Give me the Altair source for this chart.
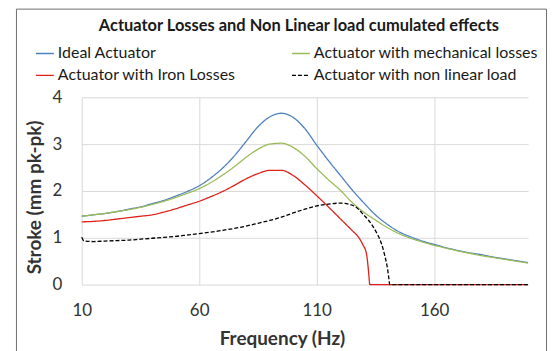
import altair as alt
import pandas as pd

# ---------------- data ----------------
series_names = [
    "Ideal Actuator",
    "Actuator with Iron Losses",
    "Actuator with mechanical losses",
    "Actuator with non linear load",
]
series_colors = ["#4F81BD", "#E0201B", "#9BBB59", "#000000"]
series_dash = [[1, 0], [1, 0], [1, 0], [4, 2]]

freq = [10, 15, 20, 25, 30, 35, 40, 45, 50, 55, 60, 65, 70, 75, 80, 85, 90, 95,
        100, 105, 110, 115, 120, 125, 130, 135, 140, 145, 150, 155, 160, 165,
        170, 175, 180, 185, 190, 195, 200]

ideal = [1.46, 1.49, 1.52, 1.56, 1.61, 1.66, 1.73, 1.80, 1.89, 1.99, 2.11, 2.28,
         2.49, 2.75, 3.06, 3.37, 3.58, 3.66, 3.57, 3.33, 2.98, 2.65, 2.34, 2.03,
         1.75, 1.49, 1.29, 1.13, 1.02, 0.93, 0.86, 0.79, 0.73, 0.68, 0.64, 0.59,
         0.55, 0.51, 0.47]

mech = [1.46, 1.49, 1.52, 1.56, 1.60, 1.65, 1.71, 1.78, 1.86, 1.95, 2.05, 2.18,
        2.34, 2.52, 2.72, 2.89, 3.00, 3.02, 2.93, 2.74, 2.48, 2.24, 2.02, 1.76,
        1.55, 1.38, 1.22, 1.09, 0.99, 0.91, 0.84, 0.78, 0.72, 0.67, 0.62, 0.58,
        0.54, 0.50, 0.46]

iron_freq = [10, 15, 20, 25, 30, 35, 40, 45, 50, 55, 60, 65, 70, 75, 80, 85, 90,
             95, 100, 105, 110, 115, 120, 125, 128, 129.7, 131.2, 131.9, 132.4,
             132.6, 150, 175, 200]
iron = [1.34, 1.35, 1.37, 1.40, 1.43, 1.46, 1.49, 1.55, 1.62, 1.70, 1.78, 1.88,
        1.99, 2.12, 2.26, 2.37, 2.44, 2.44, 2.33, 2.13, 1.90, 1.66, 1.41, 1.16,
        1.00, 0.85, 0.66, 0.38, 0.10, 0.0, 0.0, 0.0, 0.0]

nonlin_freq = [10, 11, 15, 20, 25, 30, 35, 40, 45, 50, 55, 60, 65, 70, 75, 80, 85,
               90, 95, 100, 105, 110, 115, 120, 125, 128, 130, 132, 134, 136,
               137.5, 139, 140, 140.7, 141.1, 160, 180, 200]
nonlin = [1.01, 0.93, 0.92, 0.93, 0.94, 0.95, 0.97, 0.99, 1.01, 1.03, 1.06, 1.09,
          1.12, 1.16, 1.20, 1.25, 1.31, 1.37, 1.44, 1.53, 1.61, 1.68, 1.72, 1.74,
          1.70, 1.60, 1.49, 1.38, 1.24, 1.06, 0.89, 0.62, 0.39, 0.15, 0.0, 0.0,
          0.0, 0.0]

x_ticks = [10, 60, 110, 160]
y_ticks = [0, 1, 2, 3, 4]

# ---------------- table ----------------
rows = []
for name, xs, ys in [
    ("Ideal Actuator", freq, ideal),
    ("Actuator with mechanical losses", freq, mech),
    ("Actuator with Iron Losses", iron_freq, iron),
    ("Actuator with non linear load", nonlin_freq, nonlin),
]:
    for i, (fx, fy) in enumerate(zip(xs, ys)):
        rows.append({"series": name, "freq": fx, "stroke": fy, "idx": i})
df = pd.DataFrame(rows)

FONT = "Lato"

legend = alt.Legend(
    title=None,
    orient="none",
    legendX=-47,
    legendY=-54,
    columns=2,
    symbolType="stroke",
    symbolSize=324,
    symbolStrokeWidth=1.4,
    labelFont=FONT,
    labelFontSize=16,
    labelColor="#1A1A1A",
    labelOffset=3,
    labelLimit=400,
    rowPadding=4,
    columnPadding=53,
    padding=0,
)

lines = alt.Chart(df).mark_line(interpolate="monotone", strokeWidth=1.3).encode(
    x=alt.X(
        "freq:Q",
        scale=alt.Scale(domain=[10, 200], nice=False, zero=False),
        axis=alt.Axis(
            values=x_ticks,
            title="Frequency (Hz)",
            labelPadding=18,
            labelFlush=False,
            titleX=201,
            titleY=54,
            titleAlign="center",
            titleBaseline="middle",
        ),
    ),
    y=alt.Y(
        "stroke:Q",
        scale=alt.Scale(domain=[0, 4], nice=False),
        axis=alt.Axis(
            values=y_ticks,
            title="Stroke (mm pk-pk)",
            labelPadding=20,
            labelFlush=False,
            titleX=-47,
            titleY=100,
            titleAlign="center",
            titleBaseline="middle",
        ),
    ),
    color=alt.Color(
        "series:N",
        sort=series_names,
        scale=alt.Scale(domain=series_names, range=series_colors),
        legend=legend,
    ),
    strokeDash=alt.StrokeDash(
        "series:N",
        sort=series_names,
        scale=alt.Scale(domain=series_names, range=series_dash),
        legend=legend,
    ),
    order="idx:Q",
)

frame = alt.Chart(pd.DataFrame({"f": [0]})).mark_rect(
    fillOpacity=0, stroke="#6E6E6E", strokeWidth=1
).encode(
    x=alt.value(-65.5),
    x2=alt.value(466.5),
    y=alt.value(-88.5),
    y2=alt.value(300),
)

chart = alt.layer(frame, lines).properties(
    width=448,
    height=188,
    padding={"left": 74, "top": 89, "right": 19, "bottom": 66},
    autosize=alt.AutoSizeParams(type="none"),
    title=alt.TitleParams(
        text="Actuator Losses and Non Linear load cumulated effects",
        font=FONT,
        fontSize=16.5,
        fontWeight="bold",
        color="#1A1A1A",
        anchor="middle",
        dx=-6,
        offset=-26,
    ),
).configure_view(
    strokeWidth=0
).configure_axis(
    labelFont=FONT,
    labelFontSize=17,
    labelColor="#333333",
    titleFont=FONT,
    titleFontSize=19,
    titleFontWeight="bold",
    titleColor="#333333",
    ticks=False,
    domain=False,
    grid=True,
    gridColor="#D9D9D9",
    gridWidth=1,
)

chart.save("out.html", embed_options={"renderer": "svg", "actions": False})
